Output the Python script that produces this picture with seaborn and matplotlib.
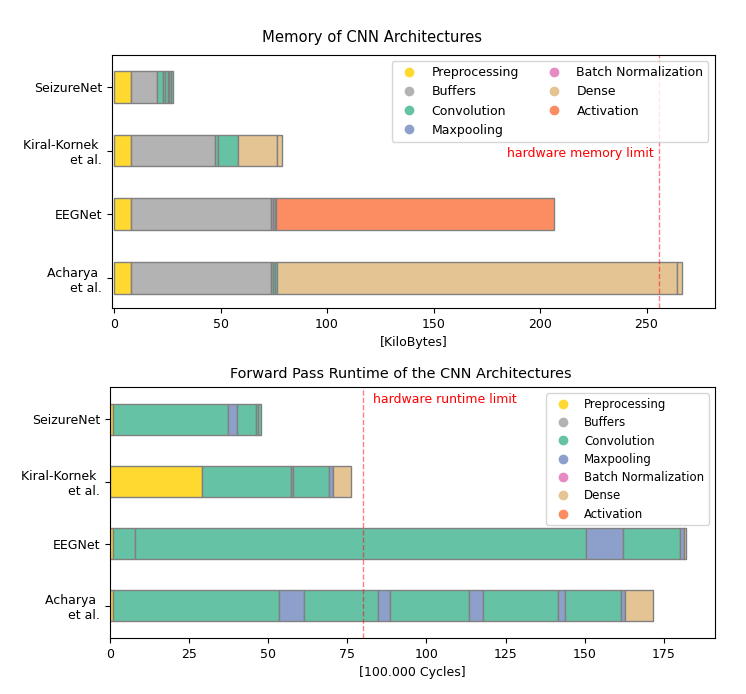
import matplotlib
matplotlib.use('Agg')
import matplotlib.pyplot as plt
from matplotlib.lines import Line2D
import seaborn as sns

set2 = sns.color_palette('Set2')

layer_types = ['Preprocessing', 'Buffers', 'Convolution', 'Maxpooling',
               'Batch Normalization', 'Dense', 'Activation']
layer_colors = {'Preprocessing': set2[5], 'Buffers': set2[7], 'Convolution': set2[0],
                'Maxpooling': set2[2], 'Batch Normalization': set2[3],
                'Dense': set2[6], 'Activation': set2[1]}

models = ['SeizureNet', 'Kiral-Kornek \net al.', 'EEGNet', 'Acharya \net al.']

# memory per layer [KiloBytes], in stacking order
mem_seizurenet_layers = ['Preprocessing', 'Buffers', 'Convolution', 'Convolution', 'Convolution',
                         'Convolution', 'Convolution', 'Convolution']
mem_seizurenet = [8.2, 11.9, 2.8, 0.9, 1.4, 0.8, 0.8, 0.9]
mem_kiral_layers = ['Preprocessing', 'Buffers', 'Convolution', 'Convolution', 'Dense', 'Dense']
mem_kiral = [8.2, 39.3, 1.3, 9.4, 18.2, 2.3]
mem_eegnet_layers = ['Preprocessing', 'Buffers', 'Batch Normalization', 'Convolution',
                     'Convolution', 'Activation']
mem_eegnet = [8.2, 65.4, 1.0, 0.8, 0.8, 130.6]
mem_acharya_layers = ['Preprocessing', 'Buffers', 'Convolution', 'Convolution', 'Convolution',
                      'Dense', 'Dense']
mem_acharya = [8.2, 65.4, 1.0, 1.0, 1.0, 187.6, 2.3]

# runtime per layer [100.000 cycles]
rt_seizurenet_layers = ['Preprocessing', 'Convolution', 'Maxpooling', 'Convolution',
                        'Convolution', 'Convolution']
rt_seizurenet = [0.9, 36.6, 2.6, 6.1, 0.6, 1.0]
rt_kiral_layers = ['Preprocessing', 'Convolution', 'Maxpooling', 'Convolution', 'Maxpooling',
                   'Dense']
rt_kiral = [29.3, 28.1, 0.5, 11.2, 1.3, 5.8]
rt_eegnet_layers = ['Preprocessing', 'Convolution', 'Convolution', 'Maxpooling', 'Convolution',
                    'Maxpooling', 'Dense']
rt_eegnet = [0.9, 7.2, 142.3, 11.7, 17.8, 1.3, 0.8]
rt_acharya_layers = ['Preprocessing', 'Convolution', 'Maxpooling', 'Convolution', 'Maxpooling',
                     'Convolution', 'Maxpooling', 'Convolution', 'Maxpooling', 'Convolution',
                     'Maxpooling', 'Dense']
rt_acharya = [0.9, 52.7, 7.6, 23.4, 3.8, 25.1, 4.4, 23.7, 2.0, 17.7, 1.5, 8.6]

memory_limit = 256
runtime_limit = 80

plt.rcParams['font.size'] = 9


def stacked_bars(ax, layers, values):
    for row, (names, vals) in enumerate(zip(layers, values)):
        left = 0
        for name, v in zip(names, vals):
            ax.barh(row, v, left=left, height=0.5, color=layer_colors[name],
                    edgecolor='grey', linewidth=1)
            left += v
    ax.set_yticks(range(len(models)))
    ax.set_yticklabels(models)


def legend_handles():
    return [Line2D([], [], marker='o', ls='', markersize=6, color=layer_colors[t], label=t)
            for t in layer_types]


fig = plt.figure(figsize=(7.46, 6.94), dpi=100)
ax1 = fig.add_axes([0.150, 0.556, 0.808, 0.365])
ax2 = fig.add_axes([0.147, 0.081, 0.811, 0.361])

stacked_bars(ax1, [mem_seizurenet_layers, mem_kiral_layers, mem_eegnet_layers, mem_acharya_layers],
             [mem_seizurenet, mem_kiral, mem_eegnet, mem_acharya])
ax1.axvline(memory_limit, color='red', ls='--', lw=1, alpha=0.5)
ax1.text(memory_limit - 2.5, 1.05, 'hardware memory limit', color='red', ha='right', va='center')
ax1.set_xlim(-1, 282)
ax1.set_ylim(3.47, -0.5)
ax1.set_xlabel('[KiloBytes]')
ax1.set_title('Memory of CNN Architectures', pad=9, fontsize=10.6, x=0.432)
ax1.legend(handles=legend_handles(), ncol=2, loc='upper right', fontsize=9,
           columnspacing=1.8, borderaxespad=0.5)

stacked_bars(ax2, [rt_seizurenet_layers, rt_kiral_layers, rt_eegnet_layers, rt_acharya_layers],
             [rt_seizurenet, rt_kiral, rt_eegnet, rt_acharya])
ax2.axvline(runtime_limit, color='red', ls='--', lw=1, alpha=0.5)
ax2.text(runtime_limit + 3, -0.32, 'hardware runtime limit', color='red', ha='left', va='center')
ax2.set_xlim(0, 191)
ax2.set_ylim(3.52, -0.52)
ax2.set_xlabel('[100.000 Cycles]')
ax2.set_title('Forward Pass Runtime of the CNN Architectures', pad=7, fontsize=10.4, x=0.481)
ax2.legend(handles=legend_handles(), ncol=1, loc='upper right', fontsize=8.5, labelspacing=0.45)

fig.savefig('out.png', dpi=100)
